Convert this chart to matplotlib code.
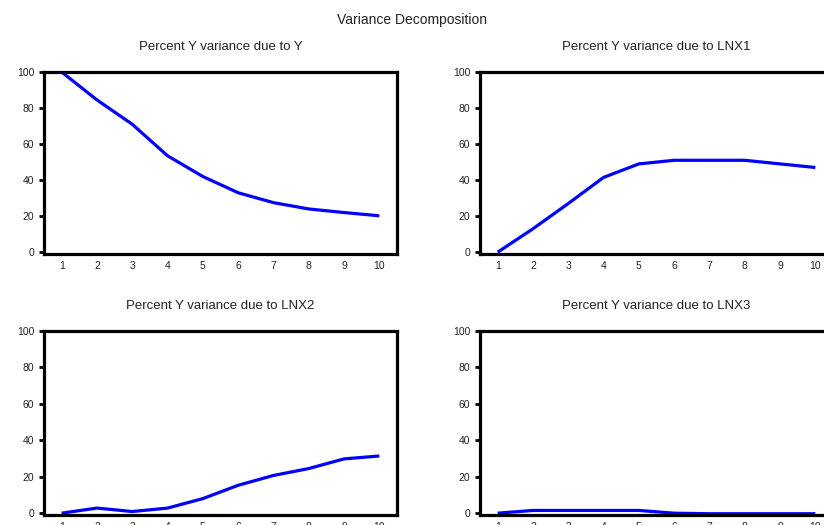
import matplotlib
matplotlib.use("Agg")
import matplotlib.pyplot as plt
from matplotlib.ticker import FixedLocator

plt.rcParams['font.family'] = ['Liberation Sans', 'DejaVu Sans']

# forecast horizon
periods = [1, 2, 3, 4, 5, 6, 7, 8, 9, 10]

# percent Y variance due to each shock
due_y    = [100, 84.5, 71, 53.5, 42, 33, 27.5, 24, 22, 20.2]
due_lnx1 = [0, 13, 27, 41.5, 49, 51, 51, 51, 49, 47]
due_lnx2 = [0, 2.8, 0.9, 2.8, 8, 15.3, 20.7, 24.5, 29.8, 31.4]
due_lnx3 = [0, 1.5, 1.5, 1.5, 1.5, 0, -0.3, -0.3, -0.3, -0.3]

titles = ["Percent Y variance due to Y", "Percent Y variance due to LNX1",
          "Percent Y variance due to LNX2", "Percent Y variance due to LNX3"]
series = [due_y, due_lnx1, due_lnx2, due_lnx3]
yticks = [0, 20, 40, 60, 80, 100]

fig = plt.figure(figsize=(8.24, 5.25), dpi=100)

# axes boxes in pixels (left, top, right, bottom); right column runs off the page
boxes = [(44, 72, 397, 254), (480, 72, 833, 254),
         (44, 331, 397, 515), (480, 331, 833, 515)]
W, H = 824.0, 525.0

for box, ttl, vals in zip(boxes, titles, series):
    l, t, r, b = box
    ax = fig.add_axes([l / W, 1 - b / H, (r - l) / W, (b - t) / H])
    ax.plot(periods, vals, color='#0000ff', lw=2.3, solid_capstyle='butt')
    ax.set_xlim(0.5, 10.5)
    ax.set_ylim(-1, 100)
    ax.set_yticks(yticks)
    ax.set_xticks(periods)
    ax.xaxis.set_minor_locator(FixedLocator([p + 0.5 for p in periods[:-1]]))
    ax.tick_params(axis='y', direction='out', length=3.5, width=2, labelsize=7.5,
                   pad=3.5, colors='black', labelcolor='#222222')
    ax.tick_params(axis='x', which='major', length=0, labelsize=7.5, pad=5,
                   labelcolor='#222222')
    ax.tick_params(axis='x', which='minor', direction='out', length=1.5, width=1.2)
    for s in ax.spines.values():
        s.set_linewidth(2.3)
        s.set_color('black')
    cx = (l + r) / 2 / W
    fig.text(cx, 1 - (t - 25) / H, ttl, ha='center', va='center', fontsize=9.5,
             color='#222222')

fig.text(412 / W, 1 - 20 / H, "Variance Decomposition", ha='center', va='center',
         fontsize=10, color='#222222')

fig.savefig("out.png", dpi=100)
